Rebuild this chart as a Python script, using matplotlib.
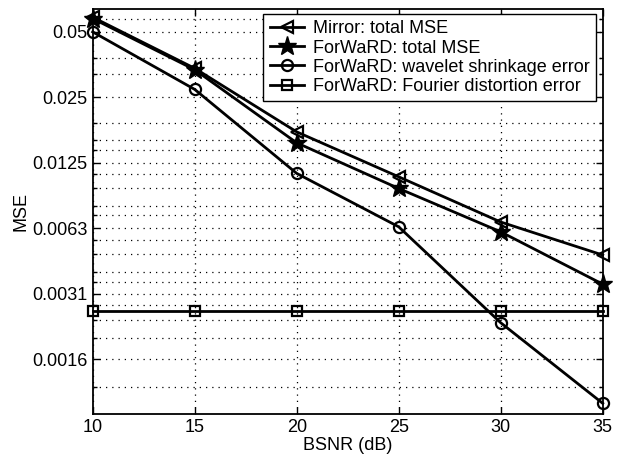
import matplotlib
matplotlib.use("Agg")
import matplotlib.pyplot as plt
from matplotlib.ticker import FixedLocator, NullFormatter

# values (log-scale MSE vs BSNR)
bsnr = [10, 15, 20, 25, 30, 35]
mirror_total = [0.0584, 0.0340, 0.01735, 0.01078, 0.00668, 0.00471]
forward_total = [0.0576, 0.0335, 0.01545, 0.00953, 0.00602, 0.00346]
forward_wavelet = [0.0500, 0.0272, 0.01118, 0.00635, 0.00230, 0.00098]
forward_fourier = [0.0026, 0.0026, 0.0026, 0.0026, 0.0026, 0.0026]

labels = ["Mirror: total MSE", "ForWaRD: total MSE",
          "ForWaRD: wavelet shrinkage error", "ForWaRD: Fourier distortion error"]

y_ticks = [0.0015625, 0.003125, 0.00625, 0.0125, 0.025, 0.05]
y_ticklabels = ["0.0016", "0.0031", "0.0063", "0.0125", "0.025", "0.05"]
y_minor = [0.0572, 0.0381, 0.0320, 0.0191, 0.01594, 0.0143, 0.0111, 0.00953,
           0.0079, 0.00716, 0.00552, 0.00476, 0.00394, 0.00355, 0.00277,
           0.00237, 0.00196, 0.00117]
x_ticks = [10, 15, 20, 25, 30, 35]

plt.rcParams['font.family'] = ['Liberation Sans', 'DejaVu Sans']
plt.rcParams['font.size'] = 13

fig = plt.figure(figsize=(6.22, 4.58), dpi=100)
ax = fig.add_axes([0.149, 0.096, 0.82, 0.884])

lw = 2.0
ax.plot(bsnr, mirror_total, color='black', lw=lw, marker='<', ms=9,
        mfc='none', mew=1.6, label=labels[0], clip_on=False, zorder=3)
ax.plot(bsnr, forward_total, color='black', lw=lw, marker='*', ms=14,
        mfc='black', mew=1.0, label=labels[1], clip_on=False, zorder=3)
ax.plot(bsnr, forward_wavelet, color='black', lw=lw, marker='o', ms=8,
        mfc='none', mew=1.6, label=labels[2], clip_on=False, zorder=3)
ax.plot(bsnr, forward_fourier, color='black', lw=lw, marker='s', ms=7,
        mfc='none', mew=1.6, label=labels[3], clip_on=False, zorder=3)

ax.set_yscale('log')
ax.set_xlim(10, 35)
ax.set_ylim(0.000875, 0.0636)
ax.set_xticks(x_ticks)
ax.yaxis.set_major_locator(FixedLocator(y_ticks))
ax.set_yticklabels(y_ticklabels)
ax.yaxis.set_minor_locator(FixedLocator(y_minor))
ax.yaxis.set_minor_formatter(NullFormatter())

ax.grid(True, which='major', linestyle=(0, (1, 4)), color='black', lw=0.9)
ax.grid(True, which='minor', axis='y', linestyle=(0, (1, 4)), color='black', lw=0.9)
ax.tick_params(which='both', direction='in', top=True, right=True, width=1.0)
ax.tick_params(which='major', length=5)
ax.tick_params(which='minor', length=3)
for s in ax.spines.values():
    s.set_linewidth(1.3)

ax.set_xlabel('BSNR (dB)', labelpad=1)
ax.set_ylabel('MSE', labelpad=2)

leg = ax.legend(loc='upper right', bbox_to_anchor=(0.987, 0.988), borderaxespad=0,
                fancybox=False, framealpha=1, edgecolor='black', handlelength=1.9,
                handletextpad=0.5, labelspacing=0.12, borderpad=0.35)
leg.get_frame().set_linewidth(1.0)
leg.set_zorder(5)

fig.savefig('out.png', dpi=100)
